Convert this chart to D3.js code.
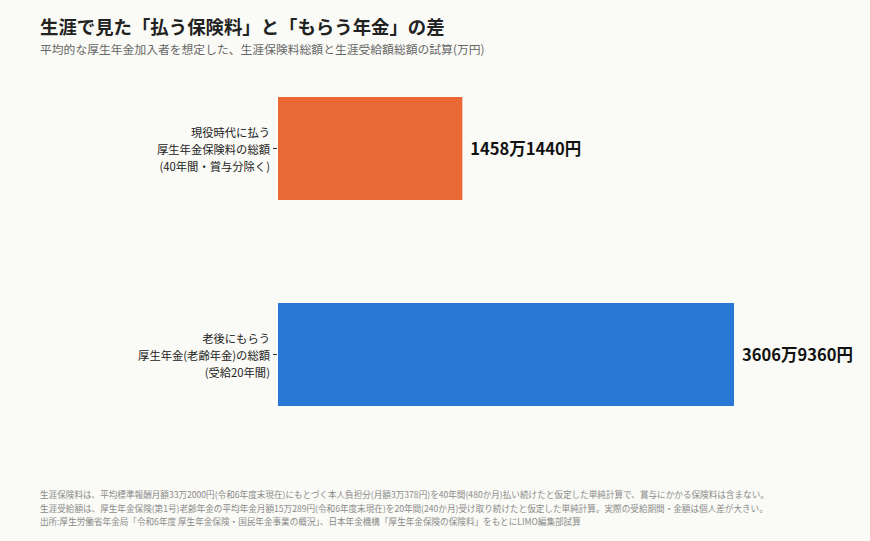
<!DOCTYPE html>
<html><head><meta charset="utf-8">
<script src="https://cdn.jsdelivr.net/npm/d3@7"></script>
<style>
html,body{margin:0;padding:0;background:#fafaf6;}
svg{display:block;font-family:"Noto Sans CJK JP","Noto Sans",sans-serif;}
</style></head>
<body>
<script>
const categories = ["paid", "received"];
const labelLines = [
  ["現役時代に払う", "厚生年金保険料の総額", "(40年間・賞与分除く)"],
  ["老後にもらう", "厚生年金(老齢年金)の総額", "(受給20年間)"]
];
const values = [1458.144, 3606.936]; // 万円
const valueLabels = ["1458万1440円", "3606万9360円"];
const colors = ["#e96833", "#2878d6"];
const title = "生涯で見た「払う保険料」と「もらう年金」の差";
const subtitle = "平均的な厚生年金加入者を想定した、生涯保険料総額と生涯受給額総額の試算(万円)";
const notes = [
  "生涯保険料は、平均標準報酬月額33万2000円(令和6年度末現在)にもとづく本人負担分(月額3万378円)を40年間(480か月)払い続けたと仮定した単純計算で、賞与にかかる保険料は含まない。",
  "生涯受給額は、厚生年金保険(第1号)老齢年金の平均年金月額15万289円(令和6年度末現在)を20年間(240か月)受け取り続けたと仮定した単純計算。実際の受給期間・金額は個人差が大きい。",
  "出所:厚生労働省年金局「令和6年度 厚生年金保険・国民年金事業の概況」、日本年金機構「厚生年金保険の保険料」をもとにLIMO編集部試算"
];

const W = 870, H = 541;
const svg = d3.select("body").append("svg").attr("width", W).attr("height", H);
svg.append("rect").attr("width", W).attr("height", H).attr("fill", "#fafaf6");

svg.append("text").attr("x", 40).attr("y", 34).attr("font-size", 18.4).attr("font-weight", 700)
  .attr("fill", "#222").text(title);
svg.append("text").attr("x", 40).attr("y", 54).attr("font-size", 11.8)
  .attr("fill", "#666").text(subtitle);

const x = d3.scaleLinear().domain([0, d3.max(values)]).range([278, 734]);
const y = d3.scaleBand().domain(categories).range([45.5, 457.5]).paddingInner(0.5).paddingOuter(0.25);

const yAxis = d3.axisLeft(y).tickSize(4).tickFormat("");
const ag = svg.append("g").attr("transform", "translate(277,0)").call(yAxis);
ag.select(".domain").remove();
ag.selectAll(".tick line").attr("stroke", "#333");

categories.forEach((c, i) => {
  const cy = y(c) + y.bandwidth() / 2;
  const t = svg.append("text").attr("text-anchor", "end").attr("font-size", 11.3).attr("fill", "#222");
  labelLines[i].forEach((ln, j) => {
    t.append("tspan").attr("x", 270).attr("y", cy + (j - 1) * 17 + 5).text(ln);
  });
});

svg.selectAll("rect.bar").data(values).join("rect").attr("class", "bar")
  .attr("x", x(0)).attr("y", (d, i) => y(categories[i]))
  .attr("width", d => x(d) - x(0)).attr("height", y.bandwidth())
  .attr("fill", (d, i) => colors[i]);

svg.selectAll("text.val").data(values).join("text").attr("class", "val")
  .attr("x", d => x(d) + 8).attr("y", (d, i) => y(categories[i]) + y.bandwidth() / 2 + 6)
  .attr("font-size", 16.5).attr("font-weight", 700).attr("fill", "#111")
  .text((d, i) => valueLabels[i]);

notes.forEach((n, i) => {
  svg.append("text").attr("x", 40).attr("y", 498 + i * 13.5).attr("font-size", 8.6)
    .attr("fill", "#8a8a8a").text(n);
});
</script>
</body></html>
